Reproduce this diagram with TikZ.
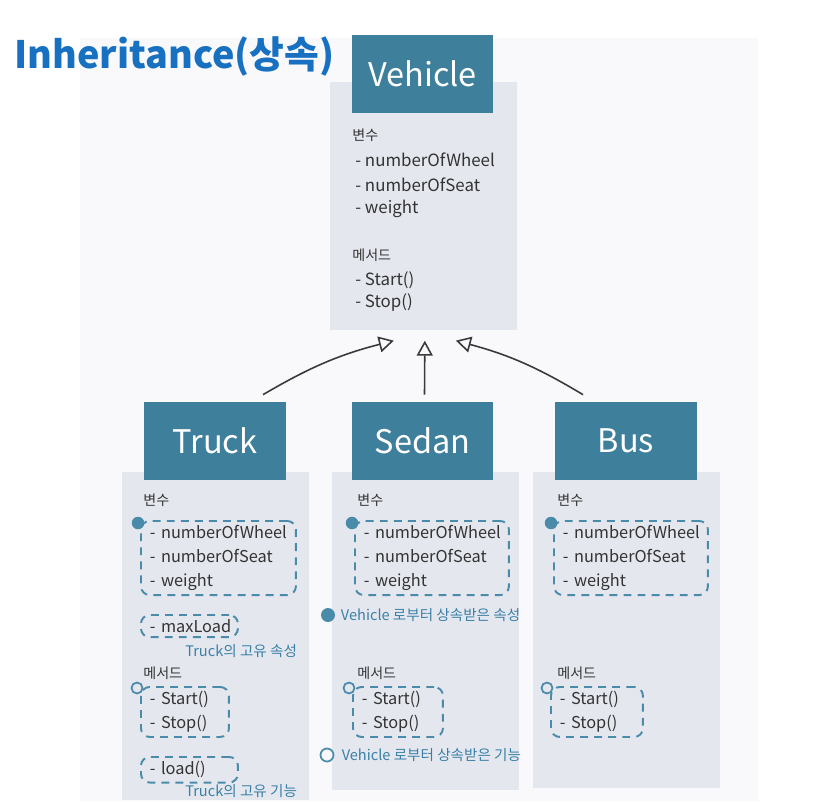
\documentclass[tikz,border=0pt]{standalone}
\usepackage{fontspec}
\setmainfont{Noto Sans CJK KR}
\usepackage{xcolor}
\usepackage{tikz}
\usetikzlibrary{arrows.meta, positioning, calc}
\hyphenpenalty=10000
\exhyphenpenalty=10000

\definecolor{titleblue}{HTML}{1870C1}
\definecolor{headteal}{HTML}{3E7F9C}
\definecolor{bodygray}{HTML}{E5E7EF}
\definecolor{dashteal}{HTML}{4A8BAA}
\definecolor{noteteal}{HTML}{3A80A6}
\definecolor{textdark}{HTML}{333333}
\definecolor{linegray}{HTML}{3A3A3A}
\definecolor{panelgray}{HTML}{F9F9FB}

\begin{document}
\begin{tikzpicture}[
    x=0.02cm, y=-0.02cm,
    head/.style={rectangle, fill=headteal, text=white, minimum width=2.84cm, minimum height=1.56cm, inner sep=0, font=\fontsize{18.5}{22}\selectfont},
    body/.style={rectangle, fill=bodygray, minimum width=3.74cm, minimum height=#1, anchor=north west, inner sep=0},
    lbl/.style={anchor=west, inner sep=0, text=textdark, font=\fontsize{8}{10}\selectfont},
    item/.style={anchor=west, inner sep=0, text=textdark, font=\fontsize{9.6}{12}\selectfont},
    group/.style={draw=dashteal, dash pattern=on 4.5pt off 3.5pt, line width=1.1pt, rounded corners=5pt, anchor=north west, align=left, text width=#1, inner xsep=0.18cm, inner ysep=0.09cm, text=textdark, font=\fontsize{9.3}{13.6}\selectfont},
    note/.style={anchor=west, inner sep=0, text=noteteal, font=\fontsize{8.3}{10}\selectfont},
    fulldot/.style={circle, fill=dashteal, minimum size=0.25cm, inner sep=0},
    opendot/.style={circle, draw=dashteal, line width=1pt, minimum size=0.22cm, inner sep=0},
    inherit/.style={-{Triangle[open, length=0.3cm, width=0.32cm]}, line width=0.9pt, draw=linegray},
]
    \useasboundingbox (0,0) rectangle (814,801);
    \fill[panelgray] (80,38) rectangle (758,801);

    % Title
    \node[anchor=west, inner sep=0, text=titleblue, font=\fontsize{21.5}{24}\bfseries] (title) at (14,56) {Inheritance(상속)};

    % Vehicle
    \node[body=4.96cm] (vbody) at (330,82) {};
    \node[head] (vhead) at (422.5,74) {Vehicle};
    \node[lbl] (vvarlbl) at (352,135) {변수};
    \node[item] (vvar1) at (355,160) {- numberOfWheel};
    \node[item] (vvar2) at (355,185) {- numberOfSeat};
    \node[item] (vvar3) at (355,209) {- weight};
    \node[lbl] (vmethlbl) at (352,255) {메서드};
    \node[item] (vmeth1) at (355,280) {- Start()};
    \node[item] (vmeth2) at (355,303) {- Stop()};

    % Truck
    \node[body=6.56cm] (tbody) at (122,472) {};
    \node[head] (thead) at (215,441) {Truck};
    \node[lbl] (tvarlbl) at (143,500) {변수};
    \node[group=2.74cm] (tvars) at (140,520) {-~numberOfWheel\\-~numberOfSeat\\-~weight};
    \node[fulldot] (tvdot) at ([shift={(-2,3)}]tvars.north west) {};
    \node[group=1.58cm] (textra) at (140,614) {-~maxLoad};
    \node[note] (textranote) at (185,651) {Truck의 고유 속성};
    \node[lbl] (tmethlbl) at (143,673) {메서드};
    \node[group=1.4cm] (tmeths) at (140,686) {-~Start()\\-~Stop()};
    \node[opendot] (tmdot) at ([shift={(-3,2)}]tmeths.north west) {};
    \node[group=1.58cm] (tload) at (140,756) {-~load()};
    \node[note] (tloadnote) at (185,791) {Truck의 고유 기능};

    % Sedan
    \node[body=6.36cm] (sbody) at (332,472) {};
    \node[head] (shead) at (422.5,441) {Sedan};
    \node[lbl] (svarlbl) at (357,500) {변수};
    \node[group=2.72cm] (svars) at (354,520) {-~numberOfWheel\\-~numberOfSeat\\-~weight};
    \node[fulldot] (svdot) at ([shift={(-2,3)}]svars.north west) {};
    \node[fulldot, minimum size=0.28cm] (sattrdot) at (328,615) {};
    \node[note, right=3pt of sattrdot] (sattrnote) {Vehicle 로부터 상속받은 속성};
    \node[lbl] (smethlbl) at (357,673) {메서드};
    \node[group=1.44cm] (smeths) at (352,686) {-~Start()\\-~Stop()};
    \node[opendot] (smdot) at ([shift={(-3,2)}]smeths.north west) {};
    \node[opendot, minimum size=0.26cm] (sfuncdot) at (327,755) {};
    \node[note, right=4pt of sfuncdot] (sfuncnote) {Vehicle 로부터 상속받은 기능};

    % Bus
    \node[body=6.32cm] (bbody) at (533,472) {};
    \node[head] (bhead) at (626,441) {Bus};
    \node[lbl] (bvarlbl) at (557,500) {변수};
    \node[group=2.72cm] (bvars) at (553,520) {-~numberOfWheel\\-~numberOfSeat\\-~weight};
    \node[fulldot] (bvdot) at ([shift={(-2,3)}]bvars.north west) {};
    \node[lbl] (bmethlbl) at (557,673) {메서드};
    \node[group=1.48cm] (bmeths) at (550,686) {-~Start()\\-~Stop()};
    \node[opendot] (bmdot) at ([shift={(-3,2)}]bmeths.north west) {};

    % Inheritance arrows
    \draw[inherit] ([shift={(48,-7)}]thead.north) to[bend left=8] ([shift={(-30,10)}]vbody.south);
    \draw[inherit] ([shift={(2,-7)}]shead.north) -- ([shift={(1,10)}]vbody.south);
    \draw[inherit] ([shift={(-43,-7)}]bhead.north) to[bend right=8] ([shift={(32,10)}]vbody.south);

\end{tikzpicture}
\end{document}
